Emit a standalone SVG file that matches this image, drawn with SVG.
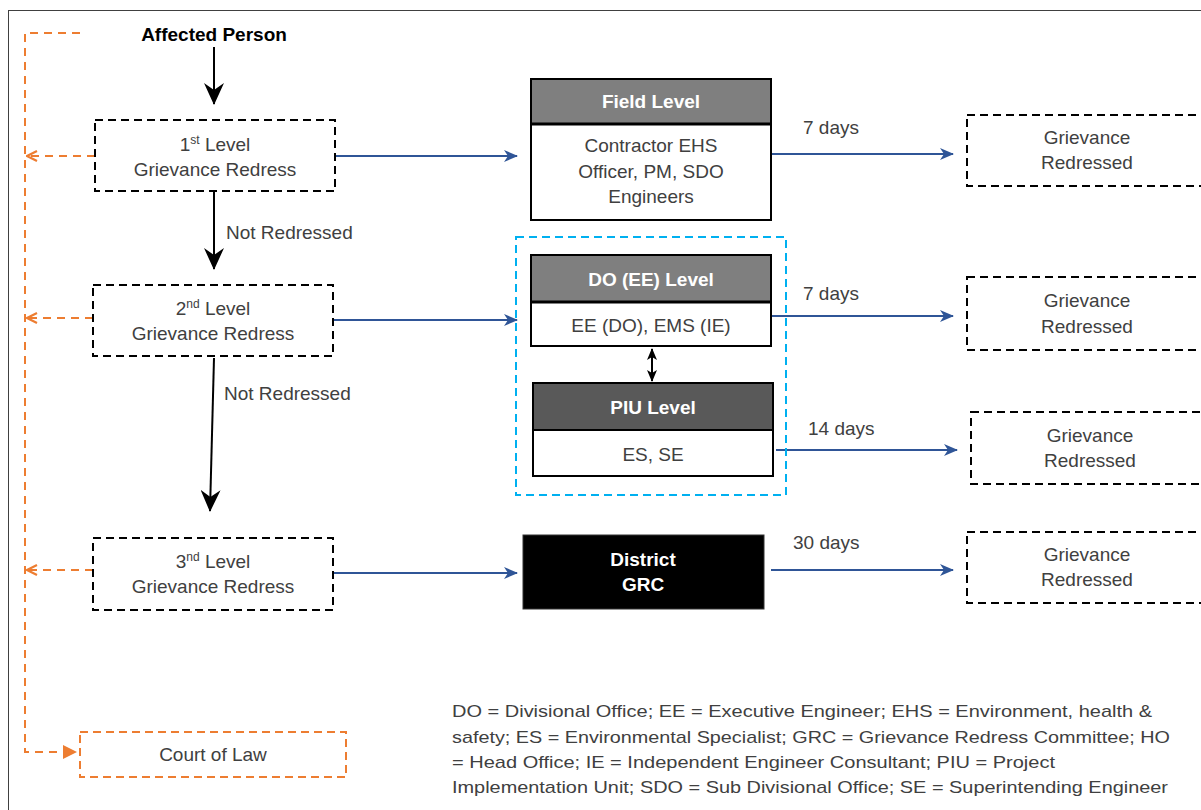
<svg xmlns="http://www.w3.org/2000/svg" width="1201" height="810" viewBox="0 0 1201 810">
<style>
text{font-family:"Liberation Sans",Arial,sans-serif;font-size:19px;fill:#404040}
.c{text-anchor:middle}
.b{font-weight:bold}
.w{fill:#ffffff}
.k{fill:#000000}
.dbox{fill:#ffffff;stroke:#000000;stroke-width:2;stroke-dasharray:8 5}
.obox{fill:#ffffff;stroke:#ed7d31;stroke-width:2;stroke-dasharray:8 5}
.solid{stroke:#000000;stroke-width:2}
.blue{stroke:#2f5597;stroke-width:2;fill:none;marker-end:url(#ab)}
.blk{stroke:#000000;stroke-width:2;fill:none;marker-end:url(#ak)}
.org{stroke:#ed7d31;stroke-width:2;fill:none;stroke-dasharray:8 6}
.leg{font-size:17px}
</style>
<defs>
<marker id="ak" viewBox="0 0 22 20" markerWidth="22" markerHeight="20" refX="21" refY="10" orient="auto" markerUnits="userSpaceOnUse"><path d="M0,0 L22,10 L0,20 L7,10 z" fill="#000"/></marker>
<marker id="ak2" viewBox="0 0 12 10" markerWidth="12" markerHeight="10" refX="11" refY="5" orient="auto-start-reverse" markerUnits="userSpaceOnUse"><path d="M0,0 L12,5 L0,10 L3,5 z" fill="#000"/></marker>
<marker id="ab" viewBox="0 0 14 12" markerWidth="14" markerHeight="12" refX="13" refY="6" orient="auto" markerUnits="userSpaceOnUse"><path d="M0,0 L14,6 L0,12 L4,6 z" fill="#2f5597"/></marker>
<marker id="ao" viewBox="0 0 12 12" markerWidth="12" markerHeight="12" refX="11" refY="6" orient="auto" markerUnits="userSpaceOnUse"><path d="M1,1 L11,6 L1,11" fill="none" stroke="#ed7d31" stroke-width="2.2"/></marker>
<marker id="aof" viewBox="0 0 14 14" markerWidth="14" markerHeight="14" refX="13" refY="7" orient="auto" markerUnits="userSpaceOnUse"><path d="M0,0 L14,7 L0,14 z" fill="#ed7d31"/></marker>
</defs>
<rect x="0" y="0" width="1201" height="810" fill="#ffffff"/>
<rect x="8.5" y="10.5" width="1210" height="820" fill="none" stroke="#404040" stroke-width="1"/>

<g id="connectors">
<path class="blk" d="M214,47 L214,104"/>
<path class="blk" d="M214,192 L214,269"/>
<path class="blk" d="M214,358 L210,511"/>
<path class="org" d="M80,33 L25,33 L25,752 L76,752" marker-end="url(#aof)"/>
<path class="org" d="M95,156 L27,156" marker-end="url(#ao)"/>
<path class="org" d="M93,318 L27,318" marker-end="url(#ao)"/>
<path class="org" d="M93,570 L27,570" marker-end="url(#ao)"/>
<path class="blue" d="M335,156 L517,156"/>
<path class="blue" d="M333,320 L517,320"/>
<path class="blue" d="M333,573 L517,573"/>
<path class="blue" d="M771,154 L953,154"/>
<path class="blue" d="M771,316 L953,316"/>
<path class="blue" d="M776,450 L957,450"/>
<path class="blue" d="M771,570 L953,570"/>
<path d="M652,349 L652,381" stroke="#000" stroke-width="2" fill="none" marker-start="url(#ak2)" marker-end="url(#ak2)"/>
<text x="226" y="239">Not Redressed</text>
<text x="224" y="400">Not Redressed</text>
<text x="803" y="134">7 days</text>
<text x="803" y="300">7 days</text>
<text x="808" y="435">14 days</text>
<text x="793" y="549">30 days</text>
</g>

<g id="affected-person">
<text class="c b k" x="214" y="41">Affected Person</text>
</g>

<g id="level1">
<rect class="dbox" x="95" y="120" width="240" height="71"/>
<text class="c" x="215" y="151">1<tspan font-size="12" dy="-7">st</tspan><tspan dy="7"> Level</tspan></text>
<text class="c" x="215" y="176">Grievance Redress</text>
</g>

<g id="level2">
<rect class="dbox" x="93" y="285" width="240" height="71"/>
<text class="c" x="213" y="315">2<tspan font-size="12" dy="-7">nd</tspan><tspan dy="7"> Level</tspan></text>
<text class="c" x="213" y="340">Grievance Redress</text>
</g>

<g id="level3">
<rect class="dbox" x="93" y="538" width="240" height="72"/>
<text class="c" x="213" y="568">3<tspan font-size="12" dy="-7">nd</tspan><tspan dy="7"> Level</tspan></text>
<text class="c" x="213" y="593">Grievance Redress</text>
</g>

<g id="court-of-law">
<rect class="obox" x="80" y="732" width="266" height="45"/>
<text class="c" x="213" y="761">Court of Law</text>
</g>

<g id="field-level">
<rect x="531" y="79" width="240" height="141" fill="#ffffff" class="solid"/>
<rect x="531" y="79" width="240" height="45" fill="#7f7f7f" class="solid"/>
<line x1="531" y1="124" x2="771" y2="124" stroke="#000" stroke-width="3"/>
<text class="c b w" x="651" y="108">Field Level</text>
<text class="c" x="651" y="152">Contractor EHS</text>
<text class="c" x="651" y="178">Officer, PM, SDO</text>
<text class="c" x="651" y="203">Engineers</text>
</g>

<g id="do-piu-group">
<rect x="516" y="237" width="270" height="258" fill="none" stroke="#00b0f0" stroke-width="2" stroke-dasharray="8 5"/>
</g>

<g id="do-level">
<rect x="531" y="255" width="240" height="91" fill="#ffffff" class="solid"/>
<rect x="531" y="255" width="240" height="47" fill="#7f7f7f" class="solid"/>
<line x1="531" y1="302" x2="771" y2="302" stroke="#000" stroke-width="3"/>
<text class="c b w" x="651" y="286">DO (EE) Level</text>
<text class="c" x="651" y="332">EE (DO), EMS (IE)</text>
</g>

<g id="piu-level">
<rect x="533" y="383" width="240" height="93" fill="#ffffff" class="solid"/>
<rect x="533" y="383" width="240" height="47" fill="#595959" class="solid"/>
<line x1="533" y1="430" x2="773" y2="430" stroke="#000" stroke-width="2"/>
<text class="c b w" x="653" y="414">PIU Level</text>
<text class="c" x="653" y="461">ES, SE</text>
</g>

<g id="district-grc">
<rect x="523" y="535" width="241" height="74" fill="#000000" stroke="#333" stroke-width="1"/>
<text class="c b w" x="643" y="566">District</text>
<text class="c b w" x="643" y="591">GRC</text>
</g>

<g id="redressed-1">
<rect class="dbox" x="967" y="115" width="260" height="71"/>
<text class="c" x="1087" y="144">Grievance</text>
<text class="c" x="1087" y="169">Redressed</text>
</g>
<g id="redressed-2">
<rect class="dbox" x="967" y="277" width="260" height="73"/>
<text class="c" x="1087" y="307">Grievance</text>
<text class="c" x="1087" y="333">Redressed</text>
</g>
<g id="redressed-3">
<rect class="dbox" x="971" y="412" width="260" height="72"/>
<text class="c" x="1090" y="442">Grievance</text>
<text class="c" x="1090" y="467">Redressed</text>
</g>
<g id="redressed-4">
<rect class="dbox" x="967" y="532" width="260" height="71"/>
<text class="c" x="1087" y="561">Grievance</text>
<text class="c" x="1087" y="586">Redressed</text>
</g>

<g id="legend">
<text class="leg" x="452" y="717" textLength="700" lengthAdjust="spacingAndGlyphs">DO = Divisional Office; EE = Executive Engineer; EHS = Environment, health &amp;</text>
<text class="leg" x="452" y="743" textLength="718" lengthAdjust="spacingAndGlyphs">safety; ES = Environmental Specialist; GRC = Grievance Redress Committee; HO</text>
<text class="leg" x="452" y="768" textLength="603" lengthAdjust="spacingAndGlyphs">= Head Office; IE = Independent Engineer Consultant; PIU = Project</text>
<text class="leg" x="452" y="793" textLength="716" lengthAdjust="spacingAndGlyphs">Implementation Unit; SDO = Sub Divisional Office; SE = Superintending Engineer</text>
</g>
</svg>
